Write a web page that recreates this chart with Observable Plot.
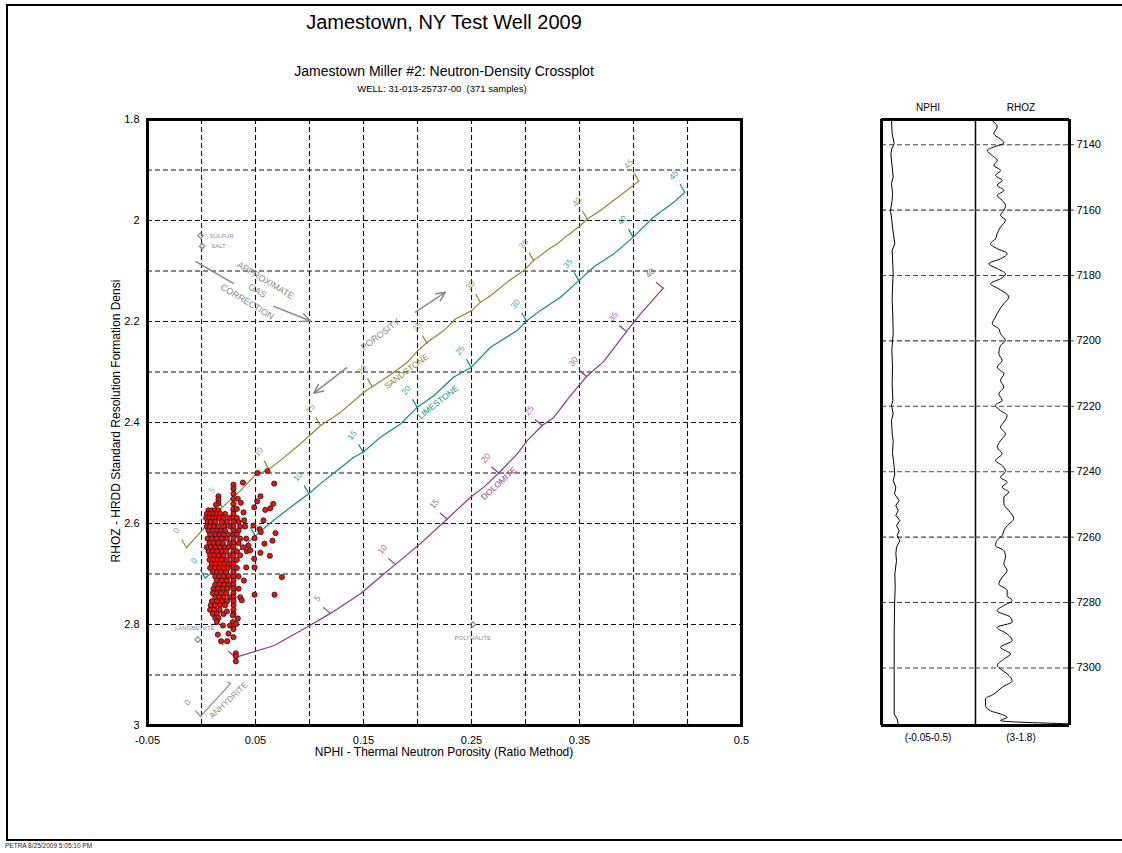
<!DOCTYPE html>
<html>
<head>
<meta charset="utf-8">
<script src="https://cdn.jsdelivr.net/npm/d3@7"></script>
<script src="https://cdn.jsdelivr.net/npm/@observablehq/plot@0.6"></script>
<style>
  body { margin: 0; background: #fff; font-family: "Liberation Sans", Arial, sans-serif; }
  #page { position: relative; width: 1122px; height: 853px; overflow: hidden; background: #fff; }
  .t { position: absolute; white-space: nowrap; transform: translate(-50%, -50%); color: #000; }
  .abs { position: absolute; }
  #border { position: absolute; left: 6px; top: 4px; width: 1130px; height: 833px; border: 2px solid #000; }
</style>
</head>
<body>
<div id="page">
  <div id="border"></div>
  <div class="t" style="left:444px;top:22px;font-size:20px;">Jamestown, NY Test Well 2009</div>
  <div class="t" style="left:444px;top:71px;font-size:14px;">Jamestown Miller #2: Neutron-Density Crossplot</div>
  <div class="t" style="left:442px;top:88px;font-size:9.5px;">WELL: 31-013-25737-00&nbsp;&nbsp;(371 samples)</div>
  <div class="t" style="left:116px;top:421px;font-size:12px;transform:translate(-50%,-50%) rotate(-90deg);">RHOZ - HRDD Standard Resolution Formation Densi</div>
  <div class="t" style="left:444px;top:752px;font-size:12px;">NPHI - Thermal Neutron Porosity (Ratio Method)</div>
  <div class="t" style="left:928px;top:107px;font-size:10px;">NPHI</div>
  <div class="t" style="left:1021px;top:107px;font-size:10px;">RHOZ</div>
  <div class="t" style="left:928px;top:737px;font-size:10px;">(-0.05-0.5)</div>
  <div class="t" style="left:1021px;top:737px;font-size:10px;">(3-1.8)</div>
  <div class="abs" style="left:5px;top:842px;font-size:6.5px;color:#222;white-space:nowrap;">PETRA 8/25/2009 5:05:10 PM</div>
  <div class="abs" id="cross" style="left:0px;top:100px;"></div>
  <div class="abs" id="trackN" style="left:871px;top:100px;"></div>
  <div class="abs" id="trackR" style="left:975px;top:100px;"></div>
</div>
<script>
// ---------------- DATA ----------------
// Crossplot axis ticks and grid
const xTickValues = [-0.05, 0.05, 0.15, 0.25, 0.35, 0.5];
const yTickValues = [1.8, 2, 2.2, 2.4, 2.6, 2.8, 3];
const xGridValues = [0, 0.05, 0.1, 0.15, 0.2, 0.25, 0.3, 0.35, 0.4, 0.45];
const yGridValues = [1.9, 2.0, 2.1, 2.2, 2.3, 2.4, 2.5, 2.6, 2.7, 2.8, 2.9];

// Crossplot samples: rows of [RHOZ, [NPHI ...]]
const sampleRows = [
  [2.574, [0.0065, 0.0096, 0.0127, 0.0157, 0.0296]],
  [2.581, [0.0049, 0.0080, 0.0111, 0.0142, 0.0173, 0.0219, 0.0296]],
  [2.589, [0.0043, 0.0074, 0.0105, 0.0136, 0.0167, 0.0204, 0.0259, 0.0296, 0.0327]],
  [2.597, [0.0056, 0.0086, 0.0127, 0.0188, 0.0235, 0.0296, 0.0343]],
  [2.606, [0.0049, 0.0080, 0.0117, 0.0157, 0.0210, 0.0265, 0.0296, 0.0358, 0.0404]],
  [2.614, [0.0065, 0.0105, 0.0142, 0.0179, 0.0219, 0.0296, 0.0343]],
  [2.622, [0.0080, 0.0127, 0.0167, 0.0204, 0.0250, 0.0296, 0.0327]],
  [2.630, [0.0056, 0.0096, 0.0142, 0.0188, 0.0235, 0.0296, 0.0358, 0.0414]],
  [2.639, [0.0074, 0.0111, 0.0157, 0.0198, 0.0265, 0.0296, 0.0343]],
  [2.647, [0.0049, 0.0086, 0.0127, 0.0173, 0.0219, 0.0250, 0.0296, 0.0383]],
  [2.655, [0.0065, 0.0105, 0.0142, 0.0188, 0.0228, 0.0296, 0.0327, 0.0420]],
  [2.663, [0.0080, 0.0117, 0.0157, 0.0204, 0.0265, 0.0296, 0.0358]],
  [2.672, [0.0074, 0.0111, 0.0148, 0.0188, 0.0235, 0.0296, 0.0327]],
  [2.680, [0.0096, 0.0133, 0.0173, 0.0210, 0.0265, 0.0296]],
  [2.688, [0.0080, 0.0127, 0.0167, 0.0204, 0.0244, 0.0296, 0.0327]],
  [2.696, [0.0105, 0.0142, 0.0179, 0.0228, 0.0296]],
  [2.705, [0.0127, 0.0167, 0.0204, 0.0250, 0.0296, 0.0343]],
  [2.713, [0.0142, 0.0188, 0.0235, 0.0296]],
  [2.721, [0.0127, 0.0167, 0.0210, 0.0265, 0.0296]],
  [2.729, [0.0111, 0.0151, 0.0198, 0.0241, 0.0296, 0.0343]],
  [2.738, [0.0105, 0.0142, 0.0179, 0.0228, 0.0296]],
  [2.746, [0.0127, 0.0167, 0.0204, 0.0265, 0.0296, 0.0358]],
  [2.754, [0.0096, 0.0142, 0.0188, 0.0235, 0.0296]],
  [2.762, [0.0086, 0.0127, 0.0173, 0.0219, 0.0296]],
  [2.771, [0.0080, 0.0117, 0.0167, 0.0296]],
  [2.779, [0.0105, 0.0142, 0.0204, 0.0296]],
  [2.787, [0.0127, 0.0157]],
  [2.795, [0.0142, 0.0290]],
  [2.802, [0.0198, 0.0265, 0.0296]]
];
// Scattered samples: [NPHI, RHOZ]
const sampleOutliers = [
  [0.0519, 2.500], [0.0611, 2.496], [0.0383, 2.519], [0.0673, 2.521], [0.0296, 2.523],
  [0.0296, 2.531], [0.0157, 2.546], [0.0157, 2.553], [0.0157, 2.560], [0.0133, 2.563],
  [0.0296, 2.541], [0.0296, 2.551], [0.0336, 2.551], [0.0364, 2.559], [0.0546, 2.546],
  [0.0515, 2.556], [0.0664, 2.561], [0.0590, 2.573], [0.0636, 2.570], [0.0488, 2.568],
  [0.0296, 2.561], [0.0296, 2.571], [0.0327, 2.571], [0.0389, 2.578], [0.0574, 2.594],
  [0.0395, 2.594], [0.0481, 2.604], [0.0537, 2.611], [0.0549, 2.617], [0.0685, 2.619],
  [0.0491, 2.629], [0.0583, 2.640], [0.0657, 2.634], [0.0435, 2.644], [0.0451, 2.653],
  [0.0546, 2.658], [0.0633, 2.664], [0.0488, 2.670], [0.0414, 2.687], [0.0491, 2.687],
  [0.0744, 2.706], [0.0392, 2.713], [0.0491, 2.741], [0.0676, 2.741], [0.0373, 2.752],
  [0.0235, 2.774], [0.0290, 2.782], [0.0336, 2.788], [0.0321, 2.799], [0.0151, 2.820],
  [0.0250, 2.818], [0.0182, 2.833], [0.0238, 2.833], [0.0296, 2.809], [0.0296, 2.825],
  [0.0318, 2.857], [0.0318, 2.863], [0.0318, 2.873]
];

// Lithology lines [NPHI, RHOZ]
const sandstoneLine = [
  [-0.0139, 2.648], [-0.0009, 2.617], [0.0192, 2.568], [0.0361, 2.535], [0.0500, 2.503],
  [0.0608, 2.495], [0.0731, 2.475], [0.0917, 2.442], [0.1102, 2.406], [0.1287, 2.380],
  [0.1503, 2.340], [0.1719, 2.310], [0.1905, 2.281], [0.1997, 2.259], [0.2090, 2.241],
  [0.2244, 2.218], [0.2352, 2.195], [0.2506, 2.178], [0.2583, 2.162], [0.2676, 2.149],
  [0.2831, 2.122], [0.2984, 2.099], [0.3077, 2.079], [0.3201, 2.059], [0.3294, 2.046],
  [0.3386, 2.030], [0.3509, 2.010], [0.3571, 1.997], [0.3694, 1.980], [0.3756, 1.970],
  [0.3880, 1.950], [0.4049, 1.922]
];
const limestoneLine = [
  [0.0034, 2.708], [0.0204, 2.679], [0.0370, 2.650], [0.0500, 2.624], [0.0593, 2.607],
  [0.0701, 2.588], [0.0886, 2.558], [0.0994, 2.541], [0.1102, 2.521], [0.1256, 2.495],
  [0.1410, 2.469], [0.1497, 2.459], [0.1657, 2.429], [0.1843, 2.403], [0.1997, 2.370],
  [0.2151, 2.347], [0.2336, 2.310], [0.2497, 2.291], [0.2676, 2.251], [0.2923, 2.218],
  [0.3009, 2.199], [0.3139, 2.178], [0.3324, 2.152], [0.3494, 2.119], [0.3632, 2.092],
  [0.3818, 2.066], [0.3997, 2.033], [0.4188, 1.993], [0.4373, 1.964], [0.4475, 1.944]
];
const dolomiteLine = [
  [0.0315, 2.865], [0.0669, 2.842], [0.0979, 2.805], [0.1194, 2.778], [0.1472, 2.739],
  [0.1688, 2.700], [0.1796, 2.681], [0.2058, 2.634], [0.2275, 2.591], [0.2491, 2.548],
  [0.2614, 2.528], [0.2753, 2.500], [0.2923, 2.462], [0.3016, 2.436], [0.3155, 2.406],
  [0.3262, 2.390], [0.3417, 2.347], [0.3565, 2.309], [0.3725, 2.279], [0.3942, 2.218],
  [0.4065, 2.185], [0.4188, 2.155], [0.4275, 2.134]
];
const anhydriteLine = [[-0.0056, 2.971], [-0.0009, 2.982], [0.0269, 2.917], [0.0241, 2.914]];

// Porosity tick positions [porosity %, NPHI, RHOZ]
const sandstoneTicks = [
  [0, -0.0139, 2.648], [5, 0.0192, 2.568], [10, 0.0623, 2.492], [15, 0.1102, 2.406],
  [20, 0.1580, 2.329], [25, 0.2090, 2.244], [30, 0.2583, 2.162], [35, 0.3077, 2.080],
  [40, 0.3571, 1.997], [45, 0.4049, 1.922]
];
const limestoneTicks = [
  [0, 0.0034, 2.708], [5, 0.0497, 2.624], [10, 0.0994, 2.541], [15, 0.1497, 2.459],
  [20, 0.1997, 2.370], [25, 0.2497, 2.291], [30, 0.3009, 2.199], [35, 0.3494, 2.119],
  [40, 0.3997, 2.033], [45, 0.4475, 1.944]
];
const dolomiteTicks = [
  [0, 0.0315, 2.865], [5, 0.1194, 2.778], [10, 0.1796, 2.681], [15, 0.2275, 2.591],
  [20, 0.2753, 2.500], [25, 0.3155, 2.406], [30, 0.3565, 2.309], [35, 0.3935, 2.220],
  [40, 0.4275, 2.134]
];
const anhydriteTicks = [[0, -0.0009, 2.982]];

// Mineral reference points [name, NPHI, RHOZ]
const minerals = [
  ["SULFUR", -0.0009, 2.030],
  ["SALT", 0.0006, 2.051],
  ["LANGBEINITE", -0.0034, 2.830],
  ["POLYHALITE", 0.2512, 2.800]
];

// Log track
const depthTicks = [7140, 7160, 7180, 7200, 7220, 7240, 7260, 7280, 7300];
const depthRange = [7132.3, 7317.6];
// RHOZ log [depth, g/cc]
const rhozLog = [
  [7132.6, 2.787], [7134.6, 2.723], [7136.6, 2.766], [7138.7, 2.660], [7139.5, 2.638],
  [7140.7, 2.766], [7141.7, 2.851], [7143.3, 2.787], [7144.8, 2.723], [7146.3, 2.766],
  [7147.9, 2.681], [7149.4, 2.745], [7150.9, 2.660], [7152.4, 2.723], [7154.0, 2.638],
  [7155.5, 2.723], [7157.0, 2.660], [7158.6, 2.617], [7160.1, 2.638], [7161.6, 2.681],
  [7163.1, 2.617], [7165.2, 2.681], [7167.2, 2.723], [7168.8, 2.745], [7170.3, 2.809],
  [7171.8, 2.723], [7173.3, 2.596], [7174.9, 2.681], [7176.4, 2.830], [7177.9, 2.723],
  [7179.5, 2.617], [7181.0, 2.681], [7182.5, 2.809], [7184.1, 2.702], [7186.6, 2.574],
  [7188.6, 2.638], [7190.7, 2.702], [7192.7, 2.745], [7194.8, 2.787], [7196.3, 2.702],
  [7197.8, 2.681], [7199.9, 2.617], [7201.4, 2.681], [7203.9, 2.702], [7206.0, 2.660],
  [7208.0, 2.723], [7210.1, 2.638], [7212.1, 2.681], [7214.1, 2.638], [7216.2, 2.702],
  [7218.2, 2.660], [7219.7, 2.745], [7221.3, 2.681], [7222.8, 2.596], [7224.8, 2.638],
  [7226.4, 2.681], [7228.4, 2.617], [7230.5, 2.681], [7232.5, 2.723], [7234.5, 2.660],
  [7236.6, 2.745], [7238.1, 2.660], [7239.9, 2.617], [7241.7, 2.681], [7243.2, 2.596],
  [7244.7, 2.660], [7246.3, 2.574], [7247.8, 2.638], [7249.8, 2.638], [7251.9, 2.574],
  [7254.4, 2.511], [7256.5, 2.596], [7258.0, 2.638], [7259.5, 2.660], [7261.0, 2.723],
  [7262.6, 2.745], [7264.1, 2.638], [7266.1, 2.617], [7268.2, 2.638], [7270.2, 2.596],
  [7272.3, 2.660], [7274.3, 2.702], [7276.3, 2.596], [7277.9, 2.596], [7279.4, 2.532],
  [7280.9, 2.638], [7282.5, 2.723], [7284.5, 2.553], [7286.0, 2.532], [7287.6, 2.723],
  [7289.6, 2.596], [7291.6, 2.532], [7293.7, 2.681], [7295.7, 2.553], [7297.3, 2.638],
  [7299.3, 2.723], [7300.3, 2.681], [7301.8, 2.596], [7303.9, 2.532], [7305.9, 2.660],
  [7308.0, 2.766], [7309.5, 2.872], [7311.5, 2.872], [7313.1, 2.809], [7314.1, 2.681],
  [7315.1, 2.596], [7316.1, 2.681], [7317.1, 1.800]
];
// NPHI log [depth, v/v]
const nphiLog = [
  [7132.6, 0.0085], [7136.6, 0.0124], [7139.7, 0.0241], [7141.2, 0.0105], [7142.8, 0.0046],
  [7146.8, 0.0124], [7149.9, 0.0183], [7151.9, 0.0085], [7155.0, 0.0144], [7157.0, 0.0124],
  [7160.1, 0.0027], [7163.1, 0.0105], [7165.2, 0.0144], [7168.2, 0.0222], [7170.3, 0.0280],
  [7172.3, 0.0124], [7174.4, 0.0144], [7179.5, 0.0183], [7183.5, 0.0144], [7187.6, 0.0124],
  [7192.7, 0.0163], [7197.8, 0.0183], [7202.9, 0.0105], [7208.0, 0.0144], [7213.1, 0.0124],
  [7218.2, 0.0163], [7219.7, 0.0085], [7222.3, 0.0183], [7224.3, 0.0085], [7228.4, 0.0124],
  [7230.5, 0.0183], [7234.5, 0.0144], [7236.6, 0.0202], [7240.7, 0.0280], [7242.7, 0.0183],
  [7244.7, 0.0339], [7246.8, 0.0261], [7248.8, 0.0534], [7250.3, 0.0339], [7251.9, 0.0475],
  [7253.4, 0.0339], [7254.9, 0.0573], [7256.5, 0.0378], [7258.0, 0.0534], [7259.5, 0.0417],
  [7261.1, 0.0573], [7263.1, 0.0378], [7265.1, 0.0339], [7267.2, 0.0378], [7271.2, 0.0280],
  [7275.3, 0.0300], [7281.4, 0.0261], [7290.6, 0.0241], [7300.8, 0.0241], [7314.1, 0.0241],
  [7315.6, 0.0417], [7317.1, 0.0475]
];

// ---------------- BUILD ----------------
const SAND = "#8a8a3a", LIME = "#0f8b8b", DOLO = "#8b3a8b", GRAY = "#8a8a8a";
const FONT = "Liberation Sans, Arial, sans-serif";
const pts = arr => arr.map(([n, r]) => ({n, r}));
const tks = arr => arr.map(([p, n, r]) => ({p, n, r}));
const samples = sampleRows.flatMap(([r, ns]) => ns.map(n => ({n, r})))
  .concat(sampleOutliers.map(([n, r]) => ({n, r})));
const minPts = minerals.map(([name, n, r]) => ({name, n, r}));

const dash = "5,3";
const lithMarks = (line, ticks, color, rot, ldx, ldy) => [
  Plot.line(pts(line), {x: "n", y: "r", stroke: color, strokeWidth: 1.2}),
  Plot.vector(tks(ticks), {x: "n", y: "r", length: 9, rotate: rot, anchor: "start", r: 0, stroke: color, strokeWidth: 1.2}),
  Plot.text(tks(ticks), {x: "n", y: "r", text: d => String(d.p), dx: ldx, dy: ldy, rotate: -50, fill: color, fillOpacity: 0.85, fontSize: 8.5})
];

const cross = Plot.plot({
  width: 760, height: 665,
  marginLeft: 147, marginRight: 19, marginTop: 19, marginBottom: 40,
  style: {fontFamily: FONT, fontSize: "11px", background: "transparent", overflow: "visible", color: "#000"},
  x: {domain: [-0.05, 0.5]},
  y: {domain: [3, 1.8]},
  marks: [
    Plot.gridX(xGridValues, {stroke: "#111", strokeOpacity: 1, strokeWidth: 1.1, strokeDasharray: dash}),
    Plot.gridY(yGridValues, {stroke: "#111", strokeOpacity: 1, strokeWidth: 1.1, strokeDasharray: dash}),
    Plot.axisX(xTickValues, {tickSize: 0, tickPadding: 11, tickFormat: d => String(d), label: null, fontSize: 11}),
    Plot.axisY(yTickValues, {tickSize: 0, tickPadding: 8, tickFormat: d => String(d), label: null, fontSize: 11}),
    // annotations
    Plot.link([{x1: -0.0056, y1: 2.081, x2: 0.0299, y2: 2.125}], {x1: "x1", y1: "y1", x2: "x2", y2: "y2", stroke: GRAY, strokeWidth: 1.5}),
    Plot.arrow([{x1: 0.067, y1: 2.170, x2: 0.1009, y2: 2.199}], {x1: "x1", y1: "y1", x2: "x2", y2: "y2", stroke: GRAY, strokeWidth: 1.5, headLength: 10, headAngle: 50}),
    Plot.arrow([{x1: 0.1981, y1: 2.1816, x2: 0.2259, y2: 2.142}, {x1: 0.1343, y1: 2.2917, x2: 0.104, y2: 2.342}], {x1: "x1", y1: "y1", x2: "x2", y2: "y2", stroke: GRAY, strokeWidth: 1.5, headLength: 10, headAngle: 50}),
    Plot.text([{n: 0.0593, r: 2.119, t: "APPROXIMATE"}, {n: 0.0516, r: 2.139, t: "GAS"}, {n: 0.0423, r: 2.161, t: "CORRECTION"}], {x: "n", y: "r", text: "t", rotate: 31, fill: GRAY, fontSize: 9}),
    Plot.text([{n: 0.1657, r: 2.226, t: "POROSITY"}], {x: "n", y: "r", text: "t", rotate: -37, fill: GRAY, fontSize: 9}),
    // minerals
    Plot.dot(minPts, {x: "n", y: "r", symbol: "diamond2", r: 2.5, stroke: GRAY, strokeWidth: 1.2}),
    Plot.text(minPts.filter(d => d.name === "SULFUR" || d.name === "SALT"), {x: "n", y: "r", text: "name", dx: 9, textAnchor: "start", fill: GRAY, fontSize: 6}),
    Plot.text(minPts.filter(d => d.name === "LANGBEINITE"), {x: "n", y: "r", text: "name", dx: -3, dy: -12, fill: GRAY, fontSize: 6}),
    Plot.text(minPts.filter(d => d.name === "POLYHALITE"), {x: "n", y: "r", text: "name", dy: 14, fill: GRAY, fontSize: 6}),
    // lithology lines
    ...lithMarks(sandstoneLine, sandstoneTicks, SAND, -30, -10, -17),
    ...lithMarks(limestoneLine, limestoneTicks, LIME, -30, -11, -17),
    ...lithMarks(dolomiteLine, dolomiteTicks, DOLO, -50, -13, -15),
    Plot.line(pts(anhydriteLine), {x: "n", y: "r", stroke: GRAY, strokeWidth: 1.2}),
    Plot.text(tks(anhydriteTicks), {x: "n", y: "r", text: d => String(d.p), dx: -13, dy: -14, rotate: -50, fill: GRAY, fontSize: 8.5}),
    Plot.text([{n: 0.1898, r: 2.299, t: "SANDSTONE"}], {x: "n", y: "r", text: "t", rotate: -37, fill: SAND, fontSize: 8.5}),
    Plot.text([{n: 0.2190, r: 2.360, t: "LIMESTONE"}], {x: "n", y: "r", text: "t", rotate: -38, fill: LIME, fontSize: 8.5}),
    Plot.text([{n: 0.2753, r: 2.521, t: "DOLOMITE"}], {x: "n", y: "r", text: "t", rotate: -42, fill: DOLO, fontSize: 8.5}),
    Plot.text([{n: 0.0250, r: 2.950, t: "ANHYDRITE"}], {x: "n", y: "r", text: "t", rotate: -43, fill: GRAY, fontSize: 8.5}),
    // samples
    Plot.dot(samples, {x: "n", y: "r", r: 2.6, fill: "#ee1111", stroke: "#1a1a1a", strokeWidth: 0.8}),
    Plot.frame({stroke: "#000", strokeWidth: 3})
  ]
});
document.getElementById("cross").appendChild(cross);

const trackCommon = {
  height: 645, marginTop: 19, marginBottom: 20,
  style: {fontFamily: FONT, fontSize: "11px", background: "transparent", overflow: "visible", color: "#000"},
  y: {domain: depthRange, reverse: true, axis: null}
};
const nphiData = nphiLog.map(([d, v]) => ({d, v}));
const rhozData = rhozLog.map(([d, v]) => ({d, v}));

const trackN = Plot.plot({
  ...trackCommon,
  width: 104, marginLeft: 10, marginRight: 0,
  x: {domain: [-0.05, 0.5], axis: null},
  marks: [
    Plot.gridY(depthTicks, {stroke: "#444", strokeOpacity: 1, strokeWidth: 1.1, strokeDasharray: dash}),
    Plot.line(nphiData, {x: "v", y: "d", stroke: "#000", strokeWidth: 1}),
    Plot.ruleX([-0.05], {stroke: "#000", strokeWidth: 3}),
    Plot.ruleX([0.5], {stroke: "#000", strokeWidth: 1.5}),
    Plot.ruleY(depthRange, {stroke: "#000", strokeWidth: 3})
  ]
});
document.getElementById("trackN").appendChild(trackN);

const trackR = Plot.plot({
  ...trackCommon,
  width: 144, marginLeft: 0, marginRight: 50,
  x: {domain: [3, 1.8], axis: null},
  marks: [
    Plot.gridY(depthTicks, {stroke: "#444", strokeOpacity: 1, strokeWidth: 1.1, strokeDasharray: dash}),
    Plot.axisY(depthTicks, {anchor: "right", tickSize: 4, tickPadding: 3, tickFormat: d => String(d), label: null, fontSize: 11, stroke: "#444"}),
    Plot.line(rhozData, {x: "v", y: "d", stroke: "#000", strokeWidth: 1, curve: "monotone-y"}),
    Plot.ruleX([1.8], {stroke: "#000", strokeWidth: 3}),
    Plot.ruleY(depthRange, {stroke: "#000", strokeWidth: 3})
  ]
});
document.getElementById("trackR").appendChild(trackR);
</script>
</body>
</html>
